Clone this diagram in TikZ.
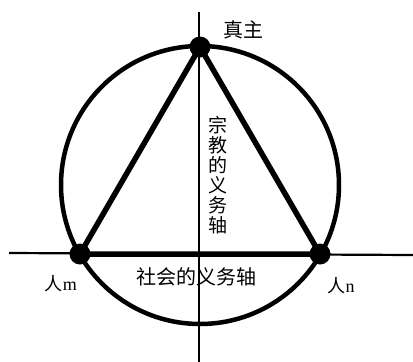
\documentclass[tikz,border=0pt]{standalone}
\usepackage{fontspec}
\setmainfont{Liberation Serif}
\newfontfamily\cjk{Noto Sans CJK SC}
\begin{document}
\begin{tikzpicture}[x=1pt,y=-1pt,
  dotn/.style={circle,fill=black,inner sep=0pt,minimum size=21pt},
  lbl/.style={font=\cjk\fontsize{20}{20}\selectfont,inner sep=0pt},
  vlbl/.style={font=\cjk\fontsize{19}{20}\selectfont,inner sep=0pt,align=center},
  plbl/.style={font=\fontsize{18}{20}\selectfont,inner sep=0pt},
  axisline/.style={line width=1.8pt},
  rim/.style={line width=4.5pt},
  tri/.style={line width=5.5pt,line cap=round}]
\useasboundingbox (0,0) rectangle (413,362);
\coordinate (c) at (200,185);
\coordinate (vt) at (199,12);
\coordinate (vb) at (199,362);
\coordinate (hl) at (9,253);
\coordinate (hr) at (413,255);
\draw[axisline] (vt) -- (vb);
\draw[line width=2.2pt] (hl) -- (hr);
\draw[rim] (c) circle[radius=139];
\node[dotn] (top) at (200,47) {};
\node[dotn] (m) at (80,254) {};
\node[dotn] (n) at (320,254) {};
\draw[tri] (top.center) -- (m.center) -- (n.center) -- cycle;
\node[lbl] (god) at (243,30) {真主};
\node[plbl] (lm) at (61,284) {{\cjk 人}m};
\node[plbl] (ln) at (341,286) {{\cjk 人}n};
\node[lbl] (soc) at (196,277) {社会的义务轴};
\node[vlbl] (rel) at (218,175) {宗\\教\\的\\义\\务\\轴};
\end{tikzpicture}
\end{document}
